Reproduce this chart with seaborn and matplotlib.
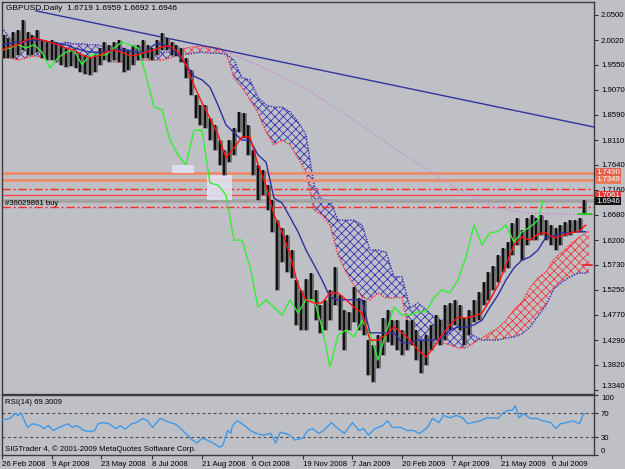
import numpy as np
import matplotlib
matplotlib.use("Agg")
import matplotlib.pyplot as plt
import matplotlib.transforms as mtransforms
from matplotlib.patches import Rectangle
import seaborn as sns

# ---------------- data ----------------
date_labels = ["26 Feb 2008", "9 Apr 2008", "23 May 2008", "8 Jul 2008", "21 Aug 2008",
               "6 Oct 2008", "19 Nov 2008", "7 Jan 2009", "20 Feb 2009", "7 Apr 2009",
               "21 May 2009", "6 Jul 2009"]
date_pos = [0, 31, 62, 94, 125, 156, 188, 219, 250, 281, 312, 344]

price_ticks = [2.0500, 2.0020, 1.9550, 1.9070, 1.8590, 1.8110, 1.7640, 1.7160,
               1.6680, 1.6200, 1.5730, 1.5250, 1.4770, 1.4290, 1.3820, 1.3340]

candle_day = list(range(1, 365, 3))
high = [2.012, 2.006, 2.017, 2.021, 2.040, 2.017, 2.012, 2.021, 2.002, 1.998,
        2.002, 1.998, 1.993, 1.987, 1.983, 1.979, 1.974, 1.974, 1.968, 1.974,
        1.987, 1.998, 1.993, 1.998, 2.002, 1.987, 1.983, 1.993, 1.993, 2.002,
        1.993, 1.987, 2.002, 2.016, 2.006, 1.998, 1.993, 1.987, 1.968, 1.945,
        1.897, 1.878, 1.878, 1.853, 1.840, 1.811, 1.792, 1.811, 1.834, 1.865,
        1.863, 1.840, 1.792, 1.764, 1.754, 1.725, 1.697, 1.658, 1.643, 1.630,
        1.601, 1.544, 1.525, 1.546, 1.557, 1.525, 1.496, 1.506, 1.525, 1.569,
        1.515, 1.487, 1.483, 1.530, 1.510, 1.506, 1.429, 1.420, 1.439, 1.471,
        1.487, 1.467, 1.467, 1.448, 1.467, 1.467, 1.448, 1.429, 1.439, 1.458,
        1.477, 1.467, 1.496, 1.500, 1.506, 1.496, 1.471, 1.487, 1.506, 1.521,
        1.540, 1.559, 1.571, 1.592, 1.605, 1.616, 1.653, 1.662, 1.639, 1.662,
        1.668, 1.662, 1.668, 1.658, 1.649, 1.643, 1.649, 1.655, 1.658, 1.658,
        1.662, 1.6959]
low = [1.968, 1.968, 1.968, 1.974, 1.983, 1.974, 1.974, 1.979, 1.968, 1.964,
       1.964, 1.960, 1.955, 1.951, 1.953, 1.949, 1.941, 1.937, 1.935, 1.941,
       1.955, 1.964, 1.960, 1.964, 1.960, 1.941, 1.945, 1.955, 1.964, 1.968,
       1.968, 1.964, 1.974, 1.983, 1.983, 1.974, 1.972, 1.960, 1.930, 1.897,
       1.853, 1.840, 1.834, 1.811, 1.792, 1.764, 1.744, 1.770, 1.783, 1.826,
       1.815, 1.783, 1.744, 1.697, 1.706, 1.678, 1.636, 1.525, 1.578, 1.559,
       1.548, 1.458, 1.448, 1.448, 1.506, 1.467, 1.443, 1.448, 1.467, 1.496,
       1.448, 1.410, 1.448, 1.464, 1.448, 1.439, 1.362, 1.349, 1.376, 1.401,
       1.425, 1.420, 1.410, 1.401, 1.410, 1.420, 1.391, 1.366, 1.382, 1.410,
       1.429, 1.420, 1.429, 1.448, 1.458, 1.448, 1.420, 1.439, 1.464, 1.467,
       1.496, 1.506, 1.525, 1.540, 1.559, 1.567, 1.592, 1.611, 1.582, 1.611,
       1.620, 1.620, 1.630, 1.620, 1.611, 1.601, 1.611, 1.628, 1.630, 1.636,
       1.636, 1.6692]

line_day = list(range(0, 370, 5))
tenkan = [1.983, 1.989, 1.993, 2.002, 2.006, 2.002, 1.998, 1.993, 1.987, 1.983,
          1.974, 1.968, 1.972, 1.979, 1.983, 1.979, 1.972, 1.974, 1.979, 1.983,
          1.989, 1.991, 1.979, 1.955, 1.916, 1.882, 1.853, 1.821, 1.777, 1.796,
          1.817, 1.817, 1.764, 1.725, 1.668, 1.636, 1.592, 1.534, 1.506, 1.500,
          1.500, 1.519, 1.519, 1.506, 1.492, 1.481, 1.429, 1.429, 1.439, 1.454,
          1.443, 1.429, 1.410, 1.397, 1.416, 1.439, 1.458, 1.473, 1.471, 1.475,
          1.481, 1.506, 1.534, 1.573, 1.611, 1.626, 1.620, 1.632, 1.634, 1.624,
          1.628, 1.634, 1.636, 1.649]
kijun = [1.993, 1.996, 1.998, 2.000, 2.002, 2.002, 1.998, 1.996, 1.993, 1.987,
         1.983, 1.979, 1.979, 1.981, 1.983, 1.983, 1.981, 1.979, 1.979, 1.993,
         1.996, 1.987, 1.974, 1.955, 1.933, 1.926, 1.912, 1.878, 1.840, 1.825,
         1.811, 1.811, 1.783, 1.769, 1.700, 1.691, 1.664, 1.636, 1.601, 1.573,
         1.544, 1.511, 1.506, 1.506, 1.506, 1.506, 1.443, 1.443, 1.443, 1.443,
         1.424, 1.424, 1.429, 1.429, 1.429, 1.433, 1.448, 1.454, 1.454, 1.458,
         1.467, 1.492, 1.515, 1.544, 1.567, 1.582, 1.588, 1.601, 1.626, 1.628,
         1.634, 1.634, 1.636, 1.636]

chikou_day = list(range(0, 340, 5)) + [338]
chikou = [1.983, 1.987, 1.993, 1.987, 1.993, 1.979, 1.949, 1.968, 1.979, 1.983,
          1.955, 1.974, 1.974, 1.974, 1.987, 1.998, 1.993, 1.987, 1.935, 1.874,
          1.869, 1.811, 1.783, 1.764, 1.830, 1.830, 1.729, 1.725, 1.706, 1.620,
          1.620, 1.569, 1.492, 1.506, 1.492, 1.477, 1.506, 1.481, 1.506, 1.506,
          1.454, 1.378, 1.439, 1.448, 1.435, 1.467, 1.443, 1.391, 1.443, 1.492,
          1.477, 1.477, 1.483, 1.483, 1.510, 1.525, 1.519, 1.544, 1.588, 1.649,
          1.611, 1.634, 1.636, 1.649, 1.616, 1.636, 1.645, 1.658, 1.6946]

cloud_day = list(range(0, 370, 5)) + [367]
span_a = [1.968, 1.968, 1.964, 1.968, 1.972, 1.968, 1.968, 1.964, 1.964, 1.960,
          1.960, 1.964, 1.964, 1.968, 1.960, 1.960, 1.960, 1.964, 1.964, 1.964,
          1.964, 1.968, 1.974, 1.987, 1.989, 1.991, 1.989, 1.987, 1.979, 1.930,
          1.912, 1.888, 1.863, 1.827, 1.802, 1.811, 1.802, 1.777, 1.750, 1.678,
          1.668, 1.649, 1.592, 1.559, 1.534, 1.511, 1.506, 1.519, 1.510, 1.510,
          1.511, 1.439, 1.429, 1.420, 1.420, 1.424, 1.420, 1.414, 1.414, 1.424,
          1.433, 1.443, 1.452, 1.467, 1.487, 1.502, 1.529, 1.548, 1.559, 1.584,
          1.597, 1.611, 1.624, 1.634, 1.636]
span_b = [2.025, 2.006, 1.998, 1.998, 1.995, 1.998, 1.993, 1.993, 1.998, 1.995,
          1.995, 1.993, 1.993, 1.987, 1.987, 1.987, 1.983, 1.983, 1.983, 1.979,
          1.979, 1.979, 1.977, 1.975, 1.977, 1.979, 1.977, 1.977, 1.975, 1.964,
          1.930, 1.926, 1.893, 1.878, 1.874, 1.874, 1.865, 1.846, 1.821, 1.725,
          1.697, 1.697, 1.658, 1.658, 1.658, 1.649, 1.601, 1.601, 1.597, 1.550,
          1.550, 1.490, 1.500, 1.487, 1.473, 1.467, 1.464, 1.458, 1.448, 1.437,
          1.429, 1.429, 1.429, 1.433, 1.435, 1.441, 1.454, 1.475, 1.496, 1.527,
          1.540, 1.550, 1.557, 1.557, 1.561]

ma_day = [0, 92, 118, 141, 161, 189, 218, 249, 283, 308, 327, 349, 369]
ma_val = [1.998, 1.987, 1.987, 1.979, 1.953, 1.911, 1.853, 1.788, 1.720, 1.683,
          1.672, 1.670, 1.668]

trend_day = [21, 370]
trend_val = [2.058, 1.836]

salmon_levels = [1.7490, 1.7349]
dashdot_levels = [1.7180, 1.6830]
red_level = 1.7061
bid_price = 1.6946
order_price = 1.6946

rsi_day = [0, 5, 8, 10, 12, 14, 16, 19, 24, 26, 29, 32, 36, 41, 44, 47, 51, 55, 58, 60,
           63, 67, 71, 74, 77, 81, 84, 88, 91, 94, 99, 102, 105, 108, 111, 114, 119, 122,
           125, 128, 132, 136, 138, 141, 143, 144, 147, 149, 153, 155, 159, 163, 168, 171,
           174, 177, 180, 183, 188, 191, 194, 198, 201, 206, 209, 214, 219, 223, 226, 229,
           233, 238, 241, 244, 249, 253, 257, 261, 266, 269, 273, 276, 280, 284, 288, 291,
           294, 299, 303, 307, 310, 313, 316, 319, 321, 323, 326, 330, 334, 338, 343, 346,
           349, 353, 357, 361, 363, 364]
rsi_val = [58, 61, 69, 66, 70, 57, 46, 52, 49, 44, 49, 41, 46, 52, 46, 49, 41, 39, 41, 52,
           54, 52, 44, 49, 43, 52, 54, 61, 57, 46, 61, 57, 54, 52, 46, 38, 25, 20, 28, 25,
           20, 13, 16, 41, 36, 49, 57, 54, 46, 41, 36, 33, 36, 20, 38, 36, 33, 25, 28, 41,
           44, 36, 41, 54, 46, 36, 54, 41, 44, 33, 44, 49, 57, 46, 46, 41, 41, 36, 46, 61,
           54, 66, 62, 66, 62, 52, 54, 57, 62, 62, 61, 70, 74, 75, 82, 62, 69, 61, 61, 57,
           54, 44, 52, 54, 57, 52, 66, 69.3]
rsi_levels = [70, 30]
rsi_ticks = [100, 70, 30, 0]

# ---------------- style ----------------
BG = "#bfbfc6"
sns.set_style("white")
plt.rcParams["font.family"] = ["Liberation Sans", "DejaVu Sans"]
plt.rcParams["hatch.linewidth"] = 0.55
FS = 5.6

fig = plt.figure(figsize=(6.25, 4.69), dpi=100)
fig.patch.set_facecolor(BG)
ax = fig.add_axes([2 / 625, 1 - 394 / 469, 592 / 625, 392 / 469])
ax2 = fig.add_axes([2 / 625, 1 - 455 / 469, 592 / 625, 60 / 469], sharex=ax)
for a in (ax, ax2):
    a.set_facecolor(BG)
    for s in a.spines.values():
        s.set_color("#3c3c3c")
        s.set_linewidth(1.0)

# cloud
sa = np.array(span_a)
sb = np.array(span_b)
ax.fill_between(cloud_day, sa, sb, where=sb >= sa, interpolate=True,
                facecolor="none", edgecolor="#2b2bb0", hatch="xxxx", linewidth=0, zorder=1)
ax.fill_between(cloud_day, sa, sb, where=sa > sb, interpolate=True,
                facecolor="none", edgecolor="#f03030", hatch="xxxx", linewidth=0, zorder=1)
ax.plot(cloud_day, span_a, color="#ff2a2a", lw=1.0, ls=(0, (1, 1)), zorder=2)
ax.plot(cloud_day, span_b, color="#2a2ab8", lw=1.0, ls=(0, (1, 1)), zorder=2)

# horizontal levels
for lv in salmon_levels:
    ax.axhline(lv, color="#ee8a6a", lw=2.0, zorder=2)
for lv in dashdot_levels:
    ax.axhline(lv, color="#ff2a2a", lw=1.0, ls=(0, (6, 2, 1.5, 2)), zorder=2)
ax.axhline(red_level, color="#ff4a4a", lw=1.0, zorder=2)
ax.axhline(order_price, color="#a2a2a2", lw=2.6, zorder=2)

# highlight boxes
ax.add_patch(Rectangle((106, 1.7484), 14, 0.0151, facecolor="#e2e2f4", edgecolor="none",
                       alpha=0.85, zorder=2.5))
ax.add_patch(Rectangle((128, 1.6967), 16, 0.0477, facecolor="#e2e2f4", edgecolor="none",
                       alpha=0.85, zorder=2.5))

# dotted MA and trendline
ax.plot(ma_day, ma_val, color="#c888c8", lw=1.0, ls=(0, (1, 1.5)), zorder=3)
ax.plot(trend_day, trend_val, color="#3434a0", lw=1.0, zorder=3)

# candles (bars): grey halo + black core to mimic the dense daily bars
ax.vlines(candle_day, low, high, colors="#6a6a6a", lw=3.4, zorder=4)
ax.vlines(candle_day, low, high, colors="#111111", lw=1.5, zorder=4.2)

# ichimoku lines
sns.lineplot(x=chikou_day, y=chikou, ax=ax, color="#33ee33", lw=1.0, estimator=None, sort=False, zorder=5)
sns.lineplot(x=line_day, y=kijun, ax=ax, color="#2f2fa0", lw=1.0, estimator=None, sort=False, zorder=5)
sns.lineplot(x=line_day, y=tenkan, ax=ax, color="#ff1010", lw=1.0, estimator=None, sort=False, zorder=6)

# small markers on the right
ax.plot([360, 369], [1.6693, 1.6693], color="#22cc22", lw=1.3, zorder=6)
ax.plot([363, 369], [1.5730, 1.5730], color="#ee2020", lw=1.3, zorder=6)

ax.set_xlim(0, 370)
ax.set_ylim(1.3261, 2.0748)
ax.yaxis.tick_right()
ax.set_yticks(price_ticks)
ax.set_yticklabels([f"{v:.4f}" for v in price_ticks])
ax.tick_params(axis="y", right=True, length=3, width=0.8, pad=2, labelsize=FS,
               colors="#303030", labelcolor="black")
ax.tick_params(axis="x", bottom=False, labelbottom=False)
ax.set_xlabel("")
ax.set_ylabel("")
ax.get_yticklabels()[-1].set_va("bottom")

# right-side price labels
trans = mtransforms.blended_transform_factory(ax.transAxes, ax.transData)
lbls = [(1.7490, "1.7490", "#e4604e", "white"), (1.7349, "1.7349", "#e87a5c", "white"),
        (1.7061, "1.7061", "#e23a3a", "white"), (bid_price, "1.6946", "#101010", "white")]
for v, t, fc, tc in lbls:
    ax.text(1.004, v, t, transform=trans, ha="left", va="center", fontsize=FS, color=tc,
            bbox=dict(boxstyle="square,pad=0.12", fc=fc, ec="none"), clip_on=False, zorder=10)

# texts
ax.text(0.006, 0.992, "GBPUSD,Daily  1.6719 1.6959 1.6692 1.6946", transform=ax.transAxes,
        ha="left", va="top", fontsize=FS + 0.4, color="black", zorder=10)
ax.text(2, 1.6890, "#36029861 buy", ha="left", va="center", fontsize=FS, color="black", zorder=10)

# RSI panel
for lv in rsi_levels:
    ax2.axhline(lv, color="#4a4a4a", lw=0.8, ls=(0, (2.5, 2.5)), zorder=1)
sns.lineplot(x=rsi_day, y=rsi_val, ax=ax2, color="#3d9ae8", lw=1.0, estimator=None, sort=False, zorder=3)
ax2.set_ylim(0, 100)
ax2.yaxis.tick_right()
ax2.set_yticks(rsi_ticks)
ax2.set_yticklabels([str(v) for v in rsi_ticks])
ax2.tick_params(axis="y", right=True, length=3, width=0.8, pad=2, labelsize=FS, colors="#303030",
                labelcolor="black")
ytl = ax2.get_yticklabels()
ytl[0].set_va("top")
ytl[-1].set_va("bottom")
ax2.set_xticks(date_pos)
ax2.set_xticklabels(date_labels, ha="left")
ax2.tick_params(axis="x", bottom=True, length=3, width=0.8, pad=1, labelsize=FS, colors="#303030",
                labelcolor="black")
ax2.set_xlabel("")
ax2.set_ylabel("")
ax2.text(0.005, 0.88, "RSI(14) 69.3009", transform=ax2.transAxes, ha="left", va="center",
         fontsize=FS, color="black")
ax2.text(0.005, 0.09, "SIGTrader 4, \u00a9 2001-2009 MetaQuotes Software Corp.", transform=ax2.transAxes,
         ha="left", va="center", fontsize=FS, color="black")

fig.savefig("out.png", dpi=100, facecolor=BG)
